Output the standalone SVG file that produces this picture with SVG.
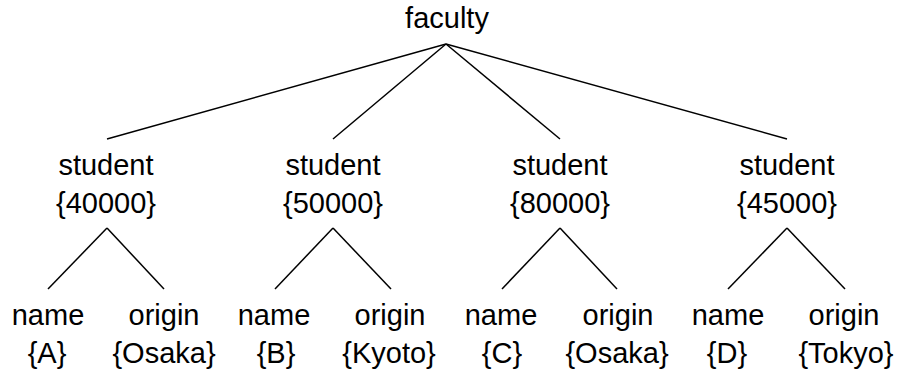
<svg xmlns="http://www.w3.org/2000/svg" width="897" height="377" viewBox="0 0 897 377">
<style>
text{font-family:"Liberation Sans",Arial,sans-serif;font-size:29px;fill:#000;text-anchor:middle}
line{stroke:#000;stroke-width:1.5}
</style>
<rect width="897" height="377" fill="#fff"/>
<g id="connectors">
<line x1="446" y1="44" x2="107" y2="139"/>
<line x1="446" y1="44" x2="333" y2="139"/>
<line x1="446" y1="44" x2="560" y2="139"/>
<line x1="446" y1="44" x2="787" y2="139"/>
<line x1="107" y1="228" x2="48" y2="289"/>
<line x1="107" y1="228" x2="164" y2="289"/>
<line x1="333" y1="228" x2="275" y2="289"/>
<line x1="333" y1="228" x2="391" y2="289"/>
<line x1="560" y1="228" x2="502" y2="289"/>
<line x1="560" y1="228" x2="617" y2="289"/>
<line x1="787" y1="228" x2="728" y2="289"/>
<line x1="787" y1="228" x2="845" y2="289"/>
</g>
<g id="faculty"><text x="447" y="28">faculty</text></g>
<g id="student1"><text x="106" y="175">student</text><text x="106" y="213">{40000}</text></g>
<g id="student2"><text x="333" y="175">student</text><text x="333" y="213">{50000}</text></g>
<g id="student3"><text x="560" y="175">student</text><text x="560" y="213">{80000}</text></g>
<g id="student4"><text x="787" y="175">student</text><text x="787" y="213">{45000}</text></g>
<g id="name1"><text x="48" y="325">name</text><text x="47" y="363">{A}</text></g>
<g id="origin1"><text x="164" y="325">origin</text><text x="164" y="363">{Osaka}</text></g>
<g id="name2"><text x="274" y="325">name</text><text x="276" y="363">{B}</text></g>
<g id="origin2"><text x="390" y="325">origin</text><text x="389" y="363">{Kyoto}</text></g>
<g id="name3"><text x="501" y="325">name</text><text x="502" y="363">{C}</text></g>
<g id="origin3"><text x="618" y="325">origin</text><text x="617" y="363">{Osaka}</text></g>
<g id="name4"><text x="728" y="325">name</text><text x="727" y="363">{D}</text></g>
<g id="origin4"><text x="844" y="325">origin</text><text x="846" y="363">{Tokyo}</text></g>
</svg>
